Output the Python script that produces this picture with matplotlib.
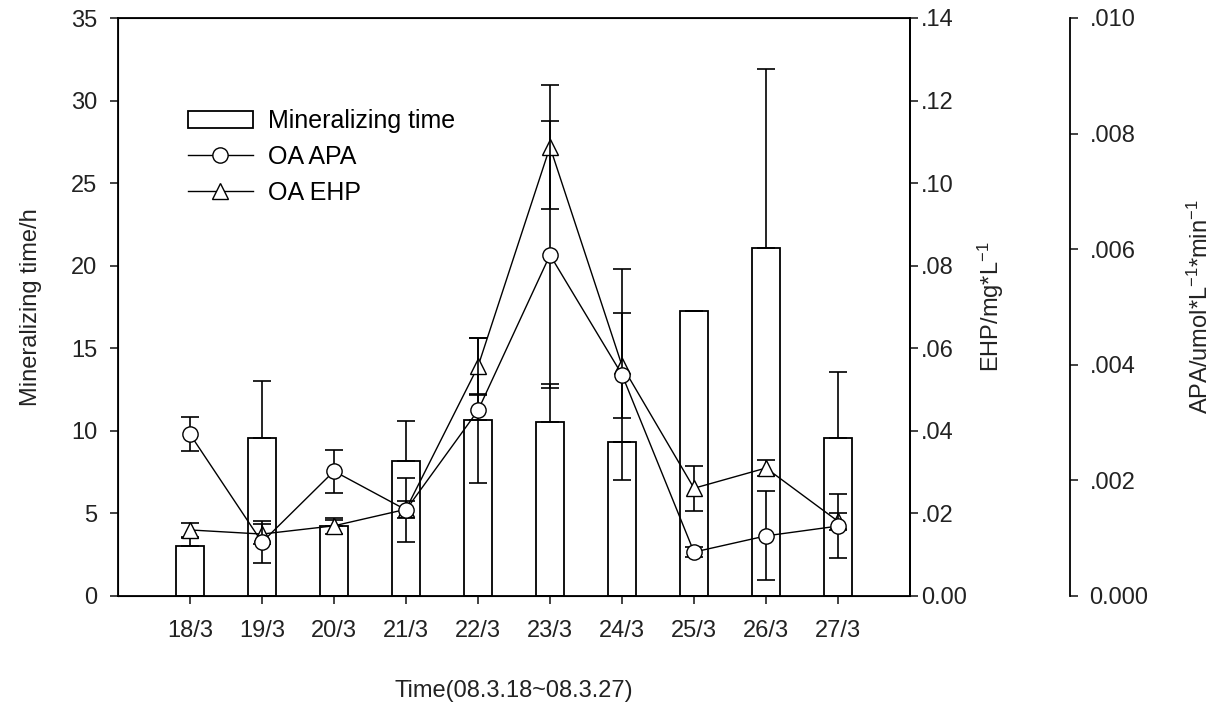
import matplotlib
matplotlib.use("Agg")
import matplotlib.pyplot as plt
import numpy as np

plt.rcParams['font.family'] = ['Liberation Sans', 'DejaVu Sans']
plt.rcParams['mathtext.fontset'] = 'custom'
plt.rcParams['mathtext.rm'] = 'Liberation Sans'
plt.rcParams['mathtext.it'] = 'Liberation Sans'
plt.rcParams['mathtext.default'] = 'regular'

dates = ["18/3", "19/3", "20/3", "21/3", "22/3", "23/3", "24/3", "25/3", "26/3", "27/3"]
min_time = [3.0, 9.55, 4.23, 8.15, 10.63, 10.56, 9.35, 17.23, 21.08, 9.55]
min_time_err = [0.5, 3.45, 0.4, 2.46, 1.6, 2.3, 0.0, 0.0, 10.83, 4.03]
ehp = [0.016, 0.015, 0.017, 0.021, 0.0556, 0.1088, 0.0558, 0.0261, 0.031, 0.0181]
ehp_err = [0.0016, 0.0024, 0.002, 0.002, 0.0068, 0.015, 0.0128, 0.0055, 0.002, 0.002]
apa = [0.0028, 0.00093, 0.00216, 0.00149, 0.00321, 0.0059, 0.00383, 0.00076, 0.00104, 0.00121]
apa_err = [0.00029, 0.00036, 0.00037, 0.00056, 0.00126, 0.00231, 0.00182, 0.00009, 0.00077, 0.00056]

ehp_ticks = [0.0, 0.02, 0.04, 0.06, 0.08, 0.10, 0.12, 0.14]
ehp_ticklabels = ["0.00", ".02", ".04", ".06", ".08", ".10", ".12", ".14"]
apa_ticks = [0.0, 0.002, 0.004, 0.006, 0.008, 0.010]
apa_ticklabels = ["0.000", ".002", ".004", ".006", ".008", ".010"]

FS = 17
TC = '#222222'
fig = plt.figure(figsize=(12.22, 7.07), dpi=100)
ax = fig.add_axes([118/1222, 111/707, (910-118)/1222, (596-18)/707])
x = np.arange(len(dates))

bars = ax.bar(x, min_time, width=0.4, color='white', edgecolor='black', linewidth=1.3,
              label='Mineralizing time', zorder=2)
ax.errorbar(x, min_time, yerr=[np.zeros(len(x)), min_time_err], fmt='none', ecolor='black',
            elinewidth=1.2, capsize=6.5, capthick=1.2, zorder=3)
ax.set_xlim(-1, 10)
ax.set_ylim(0, 35)
ax.set_yticks(np.arange(0, 36, 5))
ax.set_xticks(x)
ax.set_xticklabels(dates)
ax.tick_params(axis='both', labelsize=FS, length=6, width=1.2, colors=TC)
ax.tick_params(axis='x', pad=11)
ax.tick_params(axis='y', pad=9)
ax.set_ylabel('Mineralizing time/h', fontsize=FS, color=TC, labelpad=21)
ax.set_xlabel('Time(08.3.18~08.3.27)', fontsize=FS, color=TC, labelpad=28)
for s in ax.spines.values():
    s.set_linewidth(1.3)

ax2 = ax.twinx()
ax2.set_ylim(0, 0.14)
ax2.set_yticks(ehp_ticks)
ax2.set_yticklabels(ehp_ticklabels)
ax2.errorbar(x, ehp, yerr=ehp_err, fmt='none', ecolor='black', elinewidth=1.2,
             capsize=6.5, capthick=1.2, zorder=3)
l_ehp, = ax2.plot(x, ehp, '-', color='black', lw=1.0, marker='^', markersize=11,
                  markerfacecolor='white', markeredgecolor='black', markeredgewidth=1.0,
                  label='OA EHP', zorder=4)
ax2.tick_params(axis='y', labelsize=FS, length=6, width=1.2, colors=TC, pad=2)
ax2.set_ylabel('EHP/mg*L$^{-1}$', fontsize=FS, color=TC, labelpad=6)
ax2.spines['right'].set_linewidth(1.3)

ax3 = ax.twinx()
ax3.spines['right'].set_position(('outward', 160 * 72 / 100))
ax3.spines['right'].set_linewidth(1.3)
ax3.spines['top'].set_visible(False)
ax3.spines['bottom'].set_visible(False)
ax3.spines['left'].set_visible(False)
ax3.set_ylim(0, 0.010)
ax3.set_yticks(apa_ticks)
ax3.set_yticklabels(apa_ticklabels)
ax3.errorbar(x, apa, yerr=apa_err, fmt='none', ecolor='black', elinewidth=1.2,
             capsize=6.5, capthick=1.2, zorder=3)
l_apa, = ax3.plot(x, apa, '-', color='black', lw=1.0, marker='o', markersize=11,
                  markerfacecolor='white', markeredgecolor='black', markeredgewidth=1.0,
                  label='OA APA', zorder=4)
ax3.tick_params(axis='y', labelsize=FS, length=6, width=1.2, colors=TC, pad=8)
ax3.set_ylabel('APA/umol*L$^{-1}$*min$^{-1}$', fontsize=FS, color=TC, labelpad=28)

ax3.legend([bars, l_apa, l_ehp], ['Mineralizing time', 'OA APA', 'OA EHP'],
           loc='upper left', bbox_to_anchor=(0.066, 0.872), frameon=False, fontsize=18,
           handlelength=2.6, labelspacing=0.47, handletextpad=0.6, borderpad=0.2)

fig.savefig('out.png', dpi=100)
